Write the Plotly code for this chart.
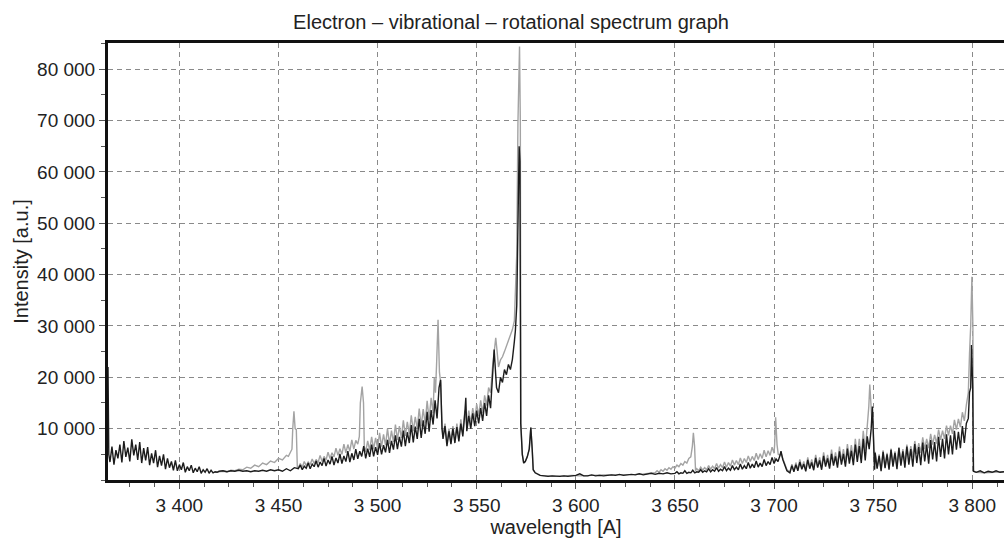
import plotly.graph_objects as go

# ---------------- data (intensity in thousands of a.u.) ----------------
# Black spectrum
b1_wl = [3364.0, 3364.4]
b1_ki = [22.0, 5.0]

b2_wl = list(range(3365, 3420))
b2_ki = [3.5, 6.5, 3.0, 5.8, 4.2, 6.9, 3.4, 7.6, 4.5, 6.3,
         3.6, 7.9, 4.8, 6.9, 3.9, 7.4, 3.3, 6.2, 3.8, 6.4,
         2.9, 5.2, 3.3, 5.8, 2.5, 4.7, 2.8, 5.0, 2.1, 4.2,
         2.4, 3.6, 1.9, 3.8, 1.8, 3.0, 2.0, 3.4, 1.5, 2.6,
         1.8, 2.9, 1.4, 2.3, 1.6, 2.6, 1.3, 2.0, 1.5, 2.2,
         1.3, 1.9, 1.4, 1.6, 1.5]

b3_wl = list(range(3420, 3460, 2))
b3_ki = [1.7, 1.8, 1.6, 1.8, 1.7, 1.9, 1.7, 1.8, 1.6, 1.8,
         1.7, 1.9, 1.7, 2.0, 1.8, 2.0, 1.7, 2.2, 1.8, 2.4]

b4_wl = list(range(3460, 3532))
b4_ki = [2.2, 2.9, 2.0, 2.7, 2.3, 3.3, 2.2, 3.1, 2.6, 3.7,
         2.5, 3.5, 2.8, 4.2, 2.7, 3.9, 3.1, 4.6, 2.9, 4.3,
         3.3, 5.1, 3.2, 4.7, 3.6, 5.6, 3.5, 5.2, 3.9, 6.0,
         4.1, 5.6, 4.6, 6.6, 4.2, 6.1, 4.5, 6.9, 4.6, 6.4,
         4.9, 7.2, 5.0, 6.8, 5.4, 7.8, 5.3, 7.6, 5.9, 8.7,
         6.0, 8.4, 6.5, 9.6, 6.6, 9.3, 7.2, 10.7, 7.3, 10.4,
         8.0, 11.9, 8.2, 11.6, 9.0, 13.3, 9.4, 13.6, 10.8, 15.5,
         12.0, 18.0]

b5_wl = [3531.8, 3532.5, 3533, 3534, 3535, 3536, 3537, 3538, 3539, 3540,
         3541, 3542, 3543, 3544, 3544.5, 3545, 3546, 3547, 3548, 3549,
         3550, 3551, 3552, 3553, 3554, 3555, 3556, 3557, 3558, 3558.8,
         3559.5, 3560, 3561, 3562, 3563, 3564, 3565, 3566, 3567, 3568,
         3569, 3569.5, 3570.2, 3570.8, 3571.4, 3571.8, 3572.2, 3573, 3573.7, 3574.5,
         3575.5, 3576.5, 3577.3, 3578, 3578.5, 3579.5, 3581]
b5_ki = [19.5, 10.0, 8.0, 10.5, 6.6, 9.5, 7.0, 10.0, 7.2, 10.3,
         7.5, 11.0, 8.5, 13.0, 16.0, 9.5, 12.5, 10.0, 13.0, 10.5,
         13.5, 11.0, 14.0, 11.5, 15.0, 12.5, 16.5, 14.0, 20.0, 25.4,
         21.0, 18.0, 17.0, 20.0, 19.0, 21.5, 20.5, 22.5, 21.5, 23.5,
         27.0, 29.0, 34.0, 50.0, 65.0, 62.0, 11.0, 5.0, 3.3, 3.6,
         4.5, 6.0, 10.2, 6.0, 2.0, 1.4, 1.0]

b6_wl = list(range(3582, 3650, 2))
b6_ki = [0.9, 0.8, 0.7, 0.8, 0.7, 0.7, 0.8, 0.7, 0.8, 0.9,
         1.2, 0.8, 0.8, 1.0, 0.8, 0.9, 0.8, 0.9, 1.0, 0.9,
         1.1, 0.9, 1.0, 1.1, 1.0, 1.2, 1.0, 1.1, 1.3, 1.1,
         1.3, 1.2, 1.4, 1.2]

b7_wl = list(range(3650, 3704))
b7_ki = [1.3, 1.6, 1.2, 1.4, 1.3, 1.8, 1.3, 1.5, 1.4, 1.9,
         1.4, 1.6, 1.5, 2.0, 1.5, 1.8, 1.6, 2.2, 1.6, 2.0,
         1.7, 2.4, 1.7, 2.1, 1.8, 2.6, 1.8, 2.3, 1.9, 2.8,
         2.0, 2.5, 2.0, 3.1, 2.1, 2.8, 2.2, 3.4, 2.3, 3.1,
         2.4, 3.7, 2.5, 3.3, 2.6, 4.0, 2.8, 3.6, 3.0, 4.4,
         3.2, 4.1, 3.6, 4.8]

b8_wl = [3703.5, 3704.4, 3705.2, 3706.5, 3708]
b8_ki = [5.6, 4.0, 3.0, 1.8, 1.4]

b9_wl = list(range(3709, 3748))
b9_ki = [2.8, 1.6,
         3.0, 1.8, 3.5, 2.1, 3.1, 1.7, 3.9, 2.2, 3.4, 1.9,
         4.3, 2.4, 3.8, 2.0, 4.7, 2.6, 4.2, 2.2, 5.1, 2.8,
         4.6, 2.4, 5.6, 3.0, 5.1, 2.6, 6.1, 3.2, 5.7, 2.9,
         6.9, 3.5, 6.6, 3.3, 8.0, 3.8, 8.5]

b10_wl = [3748, 3749, 3749.6, 3750.2, 3750.7]
b10_ki = [6.0, 10.0, 14.3, 8.0, 2.0]

b11_wl = list(range(3751, 3798))
b11_ki = [5.3, 2.2, 4.7, 1.7, 5.5, 2.3, 5.0, 2.0,
          5.9, 2.6, 5.3, 2.1, 6.2, 2.8, 5.6, 2.4, 6.5, 3.0,
          6.0, 2.6, 7.0, 3.3, 6.4, 2.9, 7.3, 3.6, 6.9, 3.2,
          7.8, 4.0, 7.4, 3.6, 8.4, 4.5, 8.0, 4.2, 8.9, 5.0,
          8.7, 5.0, 9.6, 5.9, 9.4, 6.2, 10.5, 7.2, 11.0]

b12_wl = [3798, 3798.6, 3799.2, 3799.6, 3800.2, 3800.6, 3802, 3804, 3806, 3808,
          3810, 3812, 3814, 3816]
b12_ki = [12.0, 17.0, 18.0, 26.3, 18.0, 1.7, 1.5, 1.8, 1.4, 1.7,
          1.5, 1.8, 1.5, 1.6]

# Gray spectrum
g1_wl = list(range(3418, 3456, 2))
g1_ki = [1.5, 1.6, 1.7, 1.6, 1.9, 1.8, 2.1, 2.0, 2.5, 2.3,
         2.9, 2.6, 3.3, 3.0, 3.7, 3.4, 4.2, 3.9, 4.8]

g2_wl = [3455, 3456, 3456.8, 3457.2, 3457.8, 3458.4, 3459.0, 3459.5, 3460]
g2_ki = [4.6, 5.6, 6.0, 10.0, 13.4, 10.0, 9.8, 2.5, 2.4]

g3_wl = list(range(3461, 3491))
g3_ki = [3.2, 2.5, 3.6, 2.8, 3.5, 3.0, 4.1, 3.2, 4.0, 3.4,
         4.8, 3.6, 4.6, 3.9, 5.4, 4.2, 5.3, 4.5, 6.2, 4.8,
         6.1, 5.0, 7.0, 5.3, 6.9, 5.6, 7.8, 6.0, 7.7, 7.0]

g4_wl = [3490.8, 3491.3, 3492.2, 3492.9, 3493.3]
g4_ki = [8.5, 15.0, 18.2, 15.0, 6.5]

g5_wl = list(range(3494, 3529))
g5_ki = [5.5, 7.6, 5.8, 8.4, 6.0, 8.2, 6.2, 9.2, 6.5, 8.9,
         6.8, 10.0, 7.0, 9.6, 7.4, 10.8, 7.8, 10.5, 8.2, 11.6,
         8.6, 11.3, 9.0, 12.6, 9.5, 12.3, 10.0, 13.9, 10.5, 13.8,
         11.0, 15.4, 11.8, 16.0, 13.0]

g6_wl = [3528.6, 3529.2, 3529.8, 3530.5, 3531.2, 3531.8, 3532.5, 3533, 3534, 3535]
g6_ki = [20.0, 17.0, 23.0, 31.2, 21.0, 19.0, 10.5, 8.5, 11.0, 7.2]

g7_wl = list(range(3536, 3558))
g7_ki = [10.0, 7.5, 10.5, 7.8, 11.0, 8.2, 11.8, 9.0, 13.5, 10.5,
         13.5, 11.0, 14.0, 11.8, 14.8, 12.5, 15.5, 13.0, 16.5, 14.5,
         18.0, 17.0]

g8_wl = [3558, 3559, 3559.6, 3560.3, 3561, 3562, 3563, 3564, 3565, 3566,
         3567, 3568, 3569, 3569.6, 3570.2, 3570.8, 3571.6, 3572.0, 3572.3, 3573,
         3573.7, 3574.5, 3575.5, 3576.5, 3577.3, 3578, 3578.5, 3579.5, 3581]
g8_ki = [22.0, 26.0, 27.7, 25.0, 22.0, 23.4, 24.0, 25.0, 26.0, 27.0,
         28.3, 29.3, 31.0, 36.0, 44.0, 69.5, 84.4, 70.0, 11.0, 5.0,
         3.3, 3.6, 4.5, 6.0, 10.2, 6.0, 2.0, 1.4, 1.0]

g9_wl = list(range(3582, 3640, 4))
g9_ki = [0.9, 0.8, 0.7, 0.8, 0.9, 0.8, 0.9, 0.9, 1.0, 1.0,
         1.0, 1.1, 1.1, 1.2, 1.3]

g10_wl = list(range(3640, 3658))
g10_ki = [1.4, 1.8, 1.5, 2.0, 1.7, 2.2, 1.9, 2.4, 2.1, 2.6,
          2.3, 2.9, 2.6, 3.2, 2.9, 3.6, 3.3, 4.2]

g11_wl = [3658, 3658.8, 3659.3, 3659.9, 3660.4]
g11_ki = [4.5, 6.6, 9.2, 6.6, 1.8]

g12_wl = list(range(3661, 3701))
g12_ki = [2.2, 1.8, 2.5, 1.9, 2.4, 2.0, 2.8, 2.1, 2.7, 2.2,
          3.2, 2.3, 3.0, 2.4, 3.5, 2.5, 3.4, 2.7, 3.9, 2.9,
          3.8, 3.0, 4.3, 3.2, 4.2, 3.4, 4.7, 3.6, 4.6, 3.8,
          5.2, 4.0, 5.1, 4.2, 5.8, 4.5, 5.7, 4.8, 6.4, 5.2]

g13_wl = [3700.3, 3700.8, 3701.5, 3702.1, 3703.0, 3703.5, 3704.4, 3705.2, 3706.5, 3708]
g13_ki = [6.9, 12.2, 6.9, 5.0, 4.8, 5.2, 4.2, 3.2, 2.0, 1.6]

g14_wl = list(range(3709, 3748))
g14_ki = [3.1, 1.8,
          3.4, 2.0, 4.0, 2.3, 3.6, 2.0, 4.4, 2.5, 4.0, 2.2,
          4.9, 2.7, 4.4, 2.4, 5.4, 3.0, 4.9, 2.7, 5.9, 3.3,
          5.4, 3.0, 6.5, 3.7, 6.0, 3.4, 7.0, 4.1, 6.8, 3.9,
          8.0, 4.6, 8.0, 4.6, 9.6, 5.6, 10.4]

g15_wl = [3747.8, 3748.3, 3748.9, 3749.3, 3749.8, 3750.2, 3750.7]
g15_ki = [14.3, 18.6, 14.3, 12.0, 13.0, 8.0, 2.2]

g16_wl = list(range(3751, 3798))
g16_ki = [5.5, 2.3, 5.0, 2.0, 5.8, 2.5, 5.3, 2.3,
          6.1, 2.9, 5.6, 2.7, 6.4, 3.3, 6.0, 3.4, 6.9, 4.1,
          6.6, 4.4, 7.6, 5.1, 7.2, 5.3, 8.3, 6.0, 8.0, 6.2,
          9.0, 6.9, 8.8, 7.1, 9.8, 7.8, 9.6, 8.0, 10.6, 8.7,
          10.6, 9.0, 11.7, 9.8, 11.9, 10.3, 13.2, 11.5, 14.6]

g17_wl = [3798, 3798.6, 3799.2, 3799.8, 3800.3, 3800.6, 3802, 3806, 3810, 3816]
g17_ki = [17.0, 24.6, 30.0, 39.6, 30.0, 1.7, 1.5, 1.4, 1.5, 1.6]

x_ticks = [3400, 3450, 3500, 3550, 3600, 3650, 3700, 3750, 3800]
y_ticks = [10000, 20000, 30000, 40000, 50000, 60000, 70000, 80000]

black_segments = [(b1_wl, b1_ki), (b2_wl, b2_ki), (b3_wl, b3_ki), (b4_wl, b4_ki),
                  (b5_wl, b5_ki), (b6_wl, b6_ki), (b7_wl, b7_ki), (b8_wl, b8_ki),
                  (b9_wl, b9_ki), (b10_wl, b10_ki), (b11_wl, b11_ki), (b12_wl, b12_ki)]
gray_segments = [(g1_wl, g1_ki), (g2_wl, g2_ki), (g3_wl, g3_ki), (g4_wl, g4_ki),
                 (g5_wl, g5_ki), (g6_wl, g6_ki), (g7_wl, g7_ki), (g8_wl, g8_ki),
                 (g9_wl, g9_ki), (g10_wl, g10_ki), (g11_wl, g11_ki), (g12_wl, g12_ki),
                 (g13_wl, g13_ki), (g14_wl, g14_ki), (g15_wl, g15_ki), (g16_wl, g16_ki),
                 (g17_wl, g17_ki)]


def join(segments):
    xs, ys = [], []
    for wl, ki in segments:
        assert len(wl) == len(ki), (wl[0], len(wl), len(ki))
        xs.extend(wl)
        ys.extend(k * 1000 for k in ki)
    return xs, ys


black_x, black_y = join(black_segments)
gray_x, gray_y = join(gray_segments)

FONT = "Liberation Sans, Arial, Helvetica, sans-serif"

fig = go.Figure()
fig.add_trace(go.Scatter(x=gray_x, y=gray_y, mode="lines",
                         line=dict(color="#a3a3a3", width=1.4), hoverinfo="skip"))
fig.add_trace(go.Scatter(x=black_x, y=black_y, mode="lines",
                         line=dict(color="#1c1c1c", width=1.4), hoverinfo="skip"))

axis_common = dict(
    showgrid=True, gridcolor="#8a8a8a", gridwidth=1, griddash="5px,4px",
    zeroline=False, showline=True, linecolor="#111", linewidth=3,
    ticks="outside", ticklen=6, tickwidth=1, tickcolor="#555",
    tickformat=",d", tickfont=dict(family=FONT, size=19, color="#222"),
    title_font=dict(family=FONT, size=20, color="#222"),
)

fig.update_layout(
    width=1004, height=539,
    margin=dict(l=108, r=0, t=43, b=59),
    paper_bgcolor="white", plot_bgcolor="white",
    showlegend=False,
    separators=". ",
    font=dict(family=FONT, color="#222"),
    title=dict(text="Electron – vibrational – rotational spectrum graph",
               x=511 / 1004, xref="container", xanchor="center",
               y=1 - 22 / 539, yref="container", yanchor="middle",
               font=dict(family=FONT, size=20, color="#222")),
    xaxis=dict(axis_common, range=[3364, 3816], tickvals=x_ticks, mirror=True,
               title=dict(text="wavelength [A]", standoff=6),
               minor=dict(tick0=3400, dtick=12.5, ticks="outside", ticklen=4,
                          tickcolor="#555", showgrid=False)),
    yaxis=dict(axis_common, range=[0, 85100], tickvals=y_ticks, mirror=False,
               title=dict(text="Intensity [a.u.]", standoff=4),
               minor=dict(tick0=0, dtick=5000, ticks="outside", ticklen=4,
                          tickcolor="#555", showgrid=False)),
)

fig.write_html("out.html")
